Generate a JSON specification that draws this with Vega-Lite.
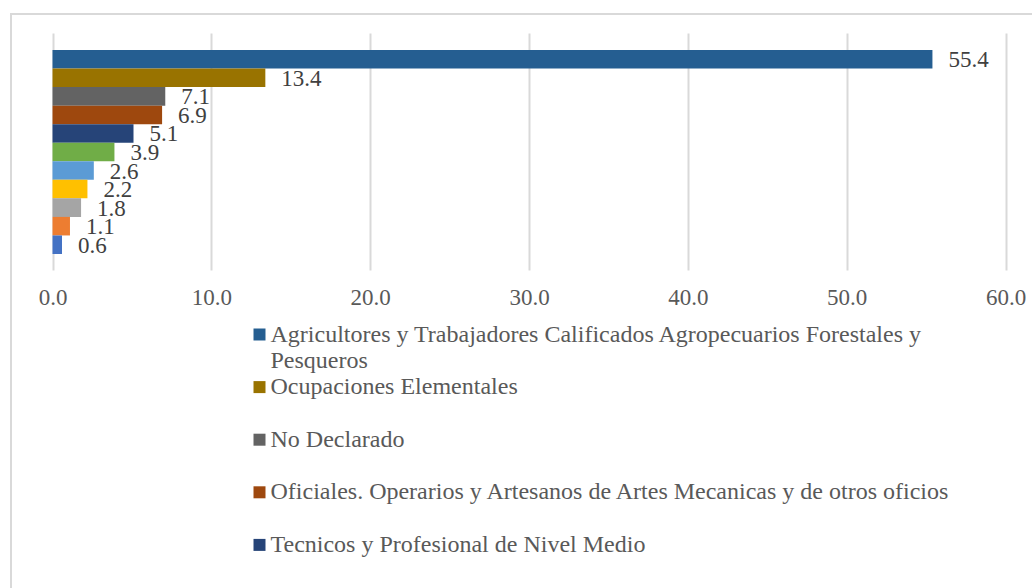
{
  "$schema": "https://vega.github.io/schema/vega-lite/v6.json",
  "autosize": {"type": "none"},
  "width": 1025,
  "height": 578,
  "padding": {"left": 11, "top": 14, "right": -4, "bottom": -4},
  "background": "white",
  "config": {"view": {"stroke": "#D9D9D9", "strokeWidth": 2}, "font": "Liberation Serif"},
  "data": {"values": [
    {"orden": 1, "ocupacion": "Agricultores y Trabajadores Calificados Agropecuarios Forestales y Pesqueros", "porcentaje": 55.4},
    {"orden": 2, "ocupacion": "Ocupaciones Elementales", "porcentaje": 13.4},
    {"orden": 3, "ocupacion": "No Declarado", "porcentaje": 7.1},
    {"orden": 4, "ocupacion": "Oficiales. Operarios y Artesanos de Artes Mecanicas y de otros oficios", "porcentaje": 6.9},
    {"orden": 5, "ocupacion": "Tecnicos y Profesional de Nivel Medio", "porcentaje": 5.1},
    {"orden": 6, "ocupacion": "Trabajadores de los Servicios y Vendedores de Comercios y Mercados", "porcentaje": 3.9},
    {"orden": 7, "ocupacion": "Profesionales Cientificos e Intelectuales", "porcentaje": 2.6},
    {"orden": 8, "ocupacion": "Operadores de Instalaciones y Maquinas y Ensambladores", "porcentaje": 2.2},
    {"orden": 9, "ocupacion": "Personal de Apoyo Administrativo", "porcentaje": 1.8},
    {"orden": 10, "ocupacion": "Miembros del Poder Ejecutivo y Legislativo Directivos y Administradores", "porcentaje": 1.1},
    {"orden": 11, "ocupacion": "Ocupaciones Militares y Policiales", "porcentaje": 0.6}
  ]},
  "encoding": {
    "y": {"field": "ocupacion", "type": "nominal", "sort": {"field": "orden", "op": "min"},
          "scale": {"range": [36, 240], "paddingInner": 0, "paddingOuter": 0}, "axis": null},
    "x": {"field": "porcentaje", "type": "quantitative",
          "scale": {"domain": [0, 60], "range": [41.5, 994.5], "nice": false, "zero": true}}
  },
  "resolve": {"axis": {"x": "independent"}},
  "layer": [
    {
      "mark": {"type": "bar"},
      "encoding": {
        "x": {"field": "porcentaje", "type": "quantitative",
              "axis": {"orient": "top", "offset": -19, "domain": false, "grid": false, "labels": false,
                       "ticks": true, "tickSize": -237, "tickColor": "#D9D9D9", "tickWidth": 2,
                       "values": [0, 10, 20, 30, 40, 50, 60], "title": null}},
        "color": {"field": "ocupacion", "type": "nominal",
          "scale": {
            "domain": [
              "Agricultores y Trabajadores Calificados Agropecuarios Forestales y Pesqueros",
              "Ocupaciones Elementales",
              "No Declarado",
              "Oficiales. Operarios y Artesanos de Artes Mecanicas y de otros oficios",
              "Tecnicos y Profesional de Nivel Medio",
              "Trabajadores de los Servicios y Vendedores de Comercios y Mercados",
              "Profesionales Cientificos e Intelectuales",
              "Operadores de Instalaciones y Maquinas y Ensambladores",
              "Personal de Apoyo Administrativo",
              "Miembros del Poder Ejecutivo y Legislativo Directivos y Administradores",
              "Ocupaciones Militares y Policiales",
              "_p", "_b1", "_b2", "_b3"
            ],
            "range": ["#255E91", "#997300", "#636363", "#9E480E", "#264478", "#70AD47", "#5B9BD5", "#FFC000", "#A5A5A5", "#ED7D31", "#4472C4", "transparent", "transparent", "transparent", "transparent"]
          },
          "legend": {
            "orient": "none", "legendX": 236.5, "legendY": 308.5, "title": null,
            "values": [
              "Agricultores y Trabajadores Calificados Agropecuarios Forestales y Pesqueros",
              "_p",
              "Ocupaciones Elementales",
              "_b1",
              "No Declarado",
              "_b2",
              "Oficiales. Operarios y Artesanos de Artes Mecanicas y de otros oficios",
              "_b3",
              "Tecnicos y Profesional de Nivel Medio"
            ],
            "labelExpr": "datum.label == '_p' ? 'Pesqueros' : (indexof(datum.label, '_b') == 0 ? '' : (datum.label == 'Agricultores y Trabajadores Calificados Agropecuarios Forestales y Pesqueros' ? 'Agricultores y Trabajadores Calificados Agropecuarios Forestales y' : datum.label))",
            "symbolType": "square", "symbolSize": 144, "symbolStrokeWidth": 0,
            "labelFont": "Liberation Serif", "labelFontSize": 24, "labelColor": "#595959",
            "labelLimit": 2000, "labelOffset": -1, "rowPadding": 2.3, "gridAlign": "all", "padding": 0
          }
        }
      }
    },
    {
      "mark": {"type": "text", "align": "left", "baseline": "middle", "dx": 16, "dy": 1, "fontSize": 23, "fill": "#404040", "font": "Liberation Serif"},
      "encoding": {
        "x": {"field": "porcentaje", "type": "quantitative",
              "axis": {"orient": "bottom", "offset": -322, "domain": false, "grid": false, "ticks": false,
                       "values": [0, 10, 20, 30, 40, 50, 60], "format": ".1f",
                       "labelFont": "Liberation Serif", "labelFontSize": 23, "labelColor": "#595959",
                       "labelPadding": 16, "labelFlush": false, "labelOverlap": false, "title": null}},
        "text": {"field": "porcentaje", "type": "quantitative", "format": ".1f"}
      }
    }
  ]
}
